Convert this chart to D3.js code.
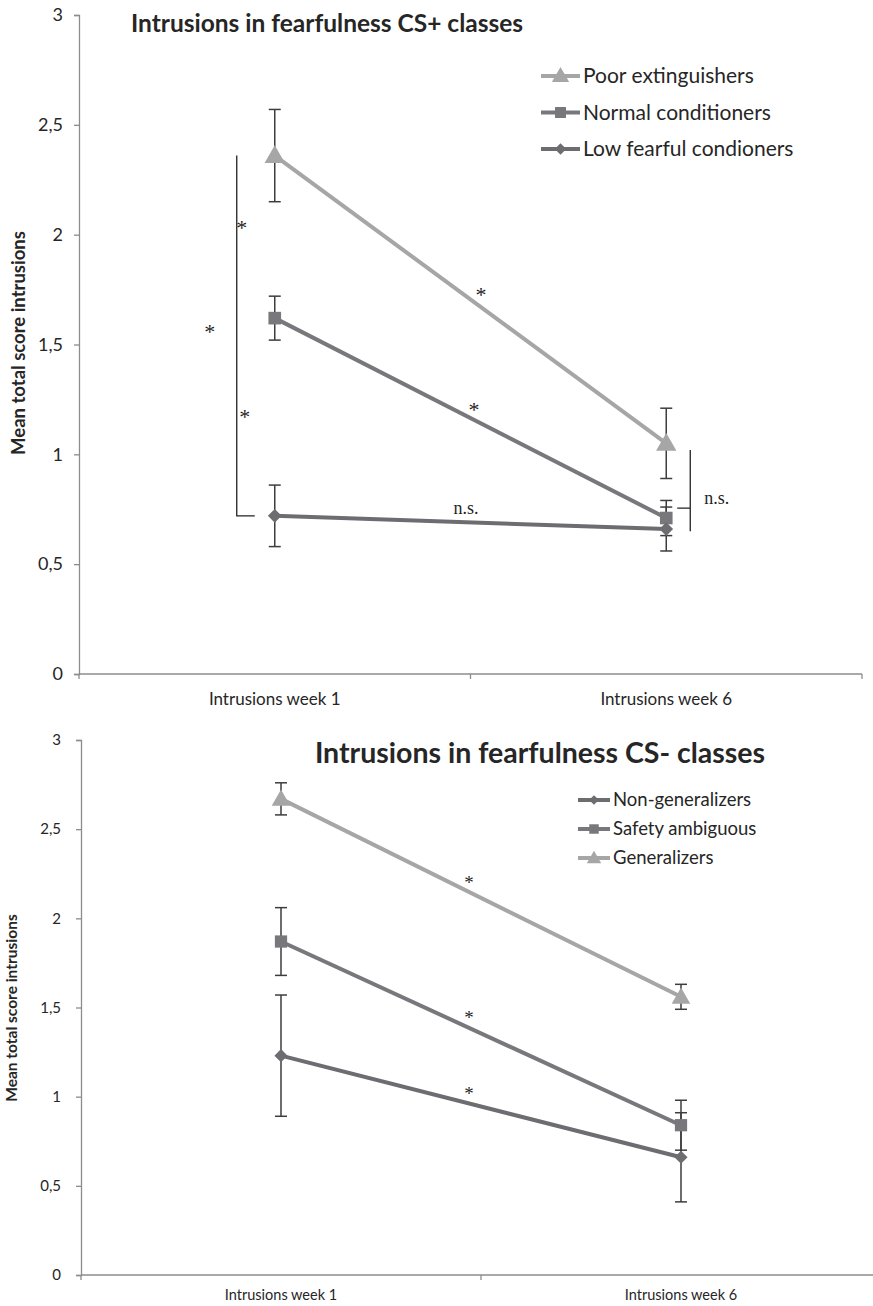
<!DOCTYPE html>
<html>
<head>
<meta charset="utf-8">
<script src="https://cdn.jsdelivr.net/npm/d3@7"></script>
<style>
  html, body { margin: 0; padding: 0; background: #fff; }
  svg { display: block; }
  text { font-family: Lato, "Open Sans", sans-serif; fill: #262626; }
  text.serif { font-family: "Liberation Serif", "DejaVu Serif", serif; fill: #1f1f1f; }
</style>
</head>
<body>
<svg id="chart" width="873" height="1306"></svg>
<script>
// Shared axis content
const categories = ["Intrusions week 1", "Intrusions week 6"];
const yTickValues = [0, 0.5, 1, 1.5, 2, 2.5, 3];
const yTickLabels = ["0", "0,5", "1", "1,5", "2", "2,5", "3"];
const yAxisTitle = "Mean total score intrusions";

// CS+ classes: means and error half-widths (week 1, week 6)
const csPlusTitle = "Intrusions in fearfulness CS+ classes";
const csPlusNames = ["Poor extinguishers", "Normal conditioners", "Low fearful condioners"];
const csPlusShapes = ["triangle", "square", "diamond"];
const csPlusMeans = [[2.36, 1.05], [1.62, 0.71], [0.72, 0.66]];
const csPlusErrors = [[0.21, 0.16], [0.10, 0.08], [0.14, 0.10]];

// CS- classes
const csMinusTitle = "Intrusions in fearfulness CS- classes";
const csMinusNames = ["Non-generalizers", "Safety ambiguous", "Generalizers"];
const csMinusShapes = ["diamond", "square", "triangle"];
const csMinusMeans = [[1.23, 0.66], [1.87, 0.84], [2.67, 1.56]];
const csMinusErrors = [[0.34, 0.25], [0.19, 0.14], [0.09, 0.07]];

const shapeColor = { triangle: "#a6a6a6", square: "#78787c", diamond: "#6d6d71" };
const symbolType = { triangle: d3.symbolTriangle, square: d3.symbolSquare, diamond: d3.symbolDiamond2 };

const svg = d3.select("#chart");

function drawPanel(cfg) {
  const g = svg.append("g");
  const x = d3.scaleBand().domain(categories).range(cfg.xRange);
  const cx = c => x(c) + x.bandwidth() / 2;
  const y = d3.scaleLinear().domain([0, 3]).range(cfg.yRange);

  // y axis
  const yAxis = d3.axisLeft(y).tickValues(yTickValues)
    .tickFormat((d, i) => yTickLabels[i]).tickSize(5).tickPadding(cfg.tickPad);
  const ya = g.append("g").attr("transform", `translate(${cfg.xRange[0]},0)`).call(yAxis);
  ya.select(".domain").attr("stroke", "#8c8c8c").attr("stroke-width", 1.3);
  ya.selectAll(".tick line").attr("stroke", "#8c8c8c").attr("stroke-width", 1.3);
  ya.selectAll(".tick text").attr("font-size", cfg.tickFont).attr("fill", "#333")
    .attr("font-family", "Lato, sans-serif");

  // x axis with boundary ticks
  const xa = g.append("g").attr("transform", `translate(0,${cfg.yRange[0]})`);
  xa.append("line").attr("x1", cfg.xRange[0]).attr("x2", cfg.xRange[1])
    .attr("stroke", "#8c8c8c").attr("stroke-width", 1.3);
  const bounds = [x(categories[0]), x(categories[1]), x(categories[1]) + x.bandwidth()];
  xa.selectAll("line.bt").data(bounds).join("line").attr("class", "bt")
    .attr("x1", d => d).attr("x2", d => d).attr("y1", 0).attr("y2", 5)
    .attr("stroke", "#8c8c8c").attr("stroke-width", 1.3);
  xa.selectAll("text.cat").data(categories).join("text").attr("class", "cat")
    .attr("x", d => cx(d)).attr("y", cfg.catDy).attr("text-anchor", "middle")
    .attr("font-size", cfg.catFont).attr("fill", "#333").text(d => d);

  // y axis title
  g.append("text")
    .attr("transform", `translate(${cfg.yTitleX},${cfg.yTitleY}) rotate(-90)`)
    .attr("text-anchor", "middle").attr("font-weight", "bold")
    .attr("font-size", cfg.yTitleFont).attr("fill", "#1a1a1a").text(yAxisTitle);

  // chart title
  g.append("text").attr("x", cfg.titleX).attr("y", cfg.titleY)
    .attr("text-anchor", "middle").attr("font-weight", "bold")
    .attr("font-size", cfg.titleFont).attr("fill", "#1a1a1a").text(cfg.title);

  const series = cfg.names.map((n, i) => ({
    name: n, shape: cfg.shapes[i],
    pts: categories.map((c, j) => ({ c, v: cfg.means[i][j], e: cfg.errors[i][j] }))
  }));

  const line = d3.line().x(d => cx(d.c)).y(d => y(d.v));
  g.selectAll("path.series").data(series).join("path").attr("class", "series")
    .attr("d", s => line(s.pts)).attr("fill", "none")
    .attr("stroke", s => shapeColor[s.shape]).attr("stroke-width", 4);

  // error bars
  const eb = g.append("g").attr("stroke", "#3d3d3d").attr("stroke-width", 1.5);
  series.forEach(s => s.pts.forEach(p => {
    const px = cx(p.c);
    eb.append("line").attr("x1", px).attr("x2", px).attr("y1", y(p.v + p.e)).attr("y2", y(p.v - p.e));
    [p.v + p.e, p.v - p.e].forEach(v => eb.append("line")
      .attr("x1", px - 6).attr("x2", px + 6).attr("y1", y(v)).attr("y2", y(v)));
  }));

  // markers
  series.forEach(s => {
    g.selectAll(null).data(s.pts).join("path")
      .attr("transform", p => `translate(${cx(p.c)},${y(p.v) + (s.shape === "triangle" ? 1.5 : 0)})`)
      .attr("d", d3.symbol().type(symbolType[s.shape]).size(cfg.markerSize[s.shape]))
      .attr("fill", shapeColor[s.shape]);
  });

  // legend
  const lg = g.append("g");
  cfg.legendOrder.forEach((si, k) => {
    const s = series[si];
    const ly = cfg.legend.y0 + k * cfg.legend.dy;
    lg.append("line").attr("x1", cfg.legend.x0).attr("x2", cfg.legend.x1)
      .attr("y1", ly).attr("y2", ly).attr("stroke", shapeColor[s.shape]).attr("stroke-width", 4);
    lg.append("path")
      .attr("transform", `translate(${(cfg.legend.x0 + cfg.legend.x1) / 2},${ly + (s.shape === "triangle" ? 1 : 0)})`)
      .attr("d", d3.symbol().type(symbolType[s.shape]).size(cfg.legend.markerSize[s.shape]))
      .attr("fill", shapeColor[s.shape]);
    lg.append("text").attr("x", cfg.legend.x1 + 3).attr("y", ly).attr("dy", "0.35em")
      .attr("font-size", cfg.legend.font).attr("fill", "#222").text(s.name);
  });

  return { g, x, y, cx };
}

// ---- CS+ panel ----
const csPlusPanel = drawPanel({
  xRange: [79, 862], yRange: [674, 15], tickPad: 11, tickFont: 18,
  catDy: 31, catFont: 17,
  yTitleX: 25, yTitleY: 343, yTitleFont: 18.5,
  title: csPlusTitle, titleX: 327, titleY: 32, titleFont: 24.5,
  names: csPlusNames, shapes: csPlusShapes, means: csPlusMeans, errors: csPlusErrors,
  markerSize: { triangle: 180, square: 160, diamond: 120 },
  legendOrder: [0, 1, 2],
  legend: { x0: 541, x1: 580, y0: 76, dy: 36.5, font: 21,
            markerSize: { triangle: 130, square: 120, diamond: 85 } }
});

// significance brackets and labels
{
  const { g, y, cx } = csPlusPanel;
  const c1 = cx(categories[0]), c6 = cx(categories[1]);
  const mid = (c1 + c6) / 2;
  const bx = c1 - 38;
  g.append("path")
    .attr("d", `M${bx},${y(2.36)} V${y(0.72)} H${c1 - 20}`)
    .attr("fill", "none").attr("stroke", "#222").attr("stroke-width", 1.3);
  const rx = c6 + 24;
  g.append("path")
    .attr("d", `M${rx},${y(1.02)} V${y(0.65)} M${c6 + 11},${y(0.755)} H${rx}`)
    .attr("fill", "none").attr("stroke", "#222").attr("stroke-width", 1.3);

  const stars = [
    { x: c1 - 33, v: 2.05 }, { x: c1 - 65, v: 1.575 }, { x: c1 - 30, v: 1.19 },
    { x: mid + 10.5, v: 1.743 }, { x: mid + 3.5, v: 1.22 }
  ];
  g.selectAll(null).data(stars).join("text").attr("class", "serif")
    .attr("x", d => d.x).attr("y", d => y(d.v)).attr("dy", "0.5em")
    .attr("text-anchor", "middle").attr("font-size", 22).text("*");
  g.append("text").attr("class", "serif").attr("x", mid - 4.5).attr("y", y(0.755))
    .attr("dy", "0.3em").attr("text-anchor", "middle").attr("font-size", 18).text("n.s.");
  g.append("text").attr("class", "serif").attr("x", c6 + 38).attr("y", y(0.80))
    .attr("dy", "0.3em").attr("font-size", 18).text("n.s.");
}

// ---- CS- panel ----
const csMinusPanel = drawPanel({
  xRange: [81, 881], yRange: [1275, 740], tickPad: 15, tickFont: 15,
  catDy: 25, catFont: 14.5,
  yTitleX: 17, yTitleY: 1008, yTitleFont: 15.5,
  title: csMinusTitle, titleX: 540, titleY: 763, titleFont: 28.5,
  names: csMinusNames, shapes: csMinusShapes, means: csMinusMeans, errors: csMinusErrors,
  markerSize: { triangle: 150, square: 150, diamond: 110 },
  legendOrder: [0, 1, 2],
  legend: { x0: 578, x1: 610, y0: 800, dy: 29, font: 18.5,
            markerSize: { triangle: 90, square: 90, diamond: 60 } }
});

{
  const { g, y, cx } = csMinusPanel;
  const mid = (cx(categories[0]) + cx(categories[1])) / 2;
  const stars = [{ v: 2.215 }, { v: 1.458 }, { v: 1.037 }];
  g.selectAll(null).data(stars).join("text").attr("class", "serif")
    .attr("x", mid - 12).attr("y", d => y(d.v)).attr("dy", "0.5em")
    .attr("text-anchor", "middle").attr("font-size", 19).text("*");
}
</script>
</body>
</html>
